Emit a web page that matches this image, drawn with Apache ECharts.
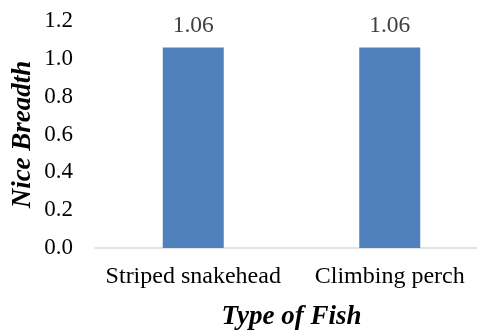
<!DOCTYPE html>
<html>
<head>
<meta charset="utf-8">
<script src="https://cdn.jsdelivr.net/npm/echarts@6/dist/echarts.min.js"></script>
<style>
  html, body { margin: 0; padding: 0; background: #fff; }
  #chart { width: 477px; height: 331px; }
</style>
</head>
<body>
<div id="chart"></div>
<script>
const categories = ['Striped snakehead', 'Climbing perch'];
const niceBreadth = [1.06, 1.06];
const yTicks = { min: 0, max: 1.2, interval: 0.2 };

const serif = '"Liberation Serif", "Times New Roman", serif';
const chart = echarts.init(document.getElementById('chart'));
chart.setOption({
  animation: false,
  grid: { left: 95, top: 21, width: 393, bottom: 83, outerBoundsMode: 'none' },
  xAxis: {
    type: 'category',
    data: categories,
    axisLine: { lineStyle: { color: '#d9d9d9', width: 1.5 } },
    axisTick: { show: false },
    axisLabel: { interval: 0, hideOverlap: false, color: '#000', fontFamily: serif, fontSize: 24, margin: 17 },
    name: 'Type of Fish',
    nameLocation: 'middle',
    nameGap: 56,
    nameMoveOverlap: false,
    nameTextStyle: { color: '#000', fontFamily: serif, fontSize: 27, fontWeight: 'bold', fontStyle: 'italic' }
  },
  yAxis: {
    type: 'value',
    min: yTicks.min, max: yTicks.max, interval: yTicks.interval,
    splitLine: { show: false },
    axisLine: { show: false },
    axisTick: { show: false },
    axisLabel: {
      color: '#000', fontFamily: serif, fontSize: 23, margin: 22,
      formatter: v => v.toFixed(1)
    },
    name: 'Nice Breadth',
    nameLocation: 'middle',
    nameGap: 58,
    nameMoveOverlap: false,
    nameTextStyle: { color: '#000', fontFamily: serif, fontSize: 27, fontWeight: 'bold', fontStyle: 'italic' }
  },
  series: [{
    type: 'bar',
    data: niceBreadth,
    barWidth: 61,
    itemStyle: { color: '#4f81bd' },
    label: {
      show: true, position: 'top', distance: 10,
      color: '#404040', fontFamily: serif, fontSize: 23.5,
      formatter: p => p.value.toFixed(2)
    }
  }]
});
</script>
</body>
</html>
